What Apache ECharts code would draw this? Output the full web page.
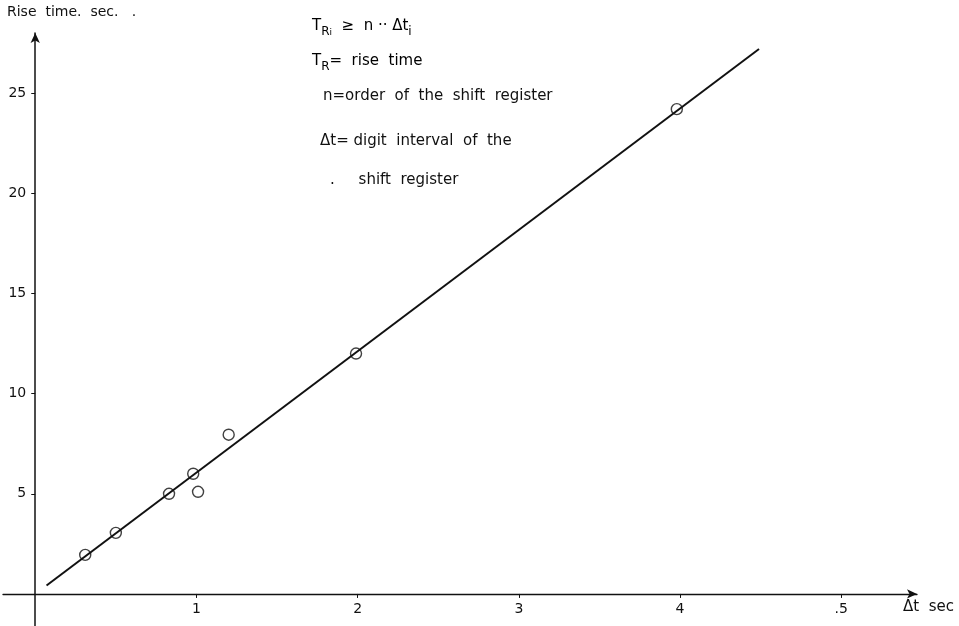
<!DOCTYPE html>
<html>
<head>
<meta charset="utf-8">
<title>Rise time vs digit interval</title>
<script src="https://cdn.jsdelivr.net/npm/echarts@6/dist/echarts.min.js"></script>
<style>
  html, body { margin: 0; padding: 0; background: #fff; }
  #chart { width: 959px; height: 626px; }
</style>
</head>
<body>
<div id="chart"></div>
<script>
// measured points: digit interval (s) vs rise time (s)
var deltaT   = [0.31, 0.5, 0.83, 0.98, 1.01, 1.2, 1.99, 3.98];
var riseTime = [1.95, 3.05, 5.0, 6.0, 5.1, 7.95, 12.0, 24.2];
// straight line drawn through the points
var fitX = [0.07, 4.49];
var fitY = [0.42, 27.2];
// axis ticks
var xTicks = [1, 2, 3, 4, 5];
var xTickLabels = ['1', '2', '3', '4', '.5'];
var yTicks = [5, 10, 15, 20, 25];

var font = 'DejaVu Sans';
var ink = '#111';

// axis lines run a little past the origin: x from -0.2, y from -1.6
var xMin = -0.2, xMax = 5.47, yMin = -1.6, yMax = 28;
var W = 959, H = 626;
var gLeft = 3, gRight = 42, gTop = 33, gBottom = 0;
// inner grid starts at the origin so ticks and labels sit on the zero lines
var pxPerX = (W - gLeft - gRight) / (xMax - xMin);
var pxPerY = (H - gTop - gBottom) / (yMax - yMin);
var innerLeft = gLeft + (0 - xMin) * pxPerX;
var innerBottom = gBottom + (0 - yMin) * pxPerY;

var chart = echarts.init(document.getElementById('chart'));

var points = deltaT.map(function (x, i) { return [x, riseTime[i]]; });
var fitLine = fitX.map(function (x, i) { return [x, fitY[i]]; });

var option = {
  backgroundColor: '#fff',
  animation: false,
  grid: [
    { left: innerLeft, right: gRight, top: gTop, bottom: innerBottom, outerBoundsMode: 'none' },
    { left: gLeft, right: gRight, top: gTop, bottom: gBottom, outerBoundsMode: 'none' }
  ],
  xAxis: [{
    gridIndex: 0,
    type: 'value',
    min: 0,
    max: xMax,
    axisLine: { show: false },
    axisTick: { customValues: xTicks, length: 4, lineStyle: { color: ink } },
    axisLabel: {
      customValues: xTicks,
      margin: 8,
      color: ink,
      fontFamily: font,
      fontSize: 14,
      formatter: function (v) { return xTickLabels[xTicks.indexOf(v)]; }
    },
    splitLine: { show: false }
  }, {
    gridIndex: 1,
    type: 'value',
    min: xMin,
    max: xMax,
    axisLine: {
      onZero: true,
      symbol: ['none', 'arrow'],
      symbolSize: [7, 10],
      lineStyle: { color: ink, width: 1.3 }
    },
    axisTick: { show: false },
    axisLabel: { show: false },
    splitLine: { show: false }
  }],
  yAxis: [{
    gridIndex: 0,
    type: 'value',
    min: 0,
    max: yMax,
    axisLine: { show: false },
    axisTick: { customValues: yTicks, length: 4, lineStyle: { color: ink } },
    axisLabel: {
      customValues: yTicks,
      margin: 9,
      color: ink,
      fontFamily: font,
      fontSize: 14
    },
    splitLine: { show: false }
  }, {
    gridIndex: 1,
    type: 'value',
    min: yMin,
    max: yMax,
    axisLine: {
      onZero: true,
      symbol: ['none', 'arrow'],
      symbolSize: [7, 10],
      lineStyle: { color: ink, width: 1.5 }
    },
    axisTick: { show: false },
    axisLabel: { show: false },
    splitLine: { show: false }
  }],
  series: [{
    name: 'fit',
    type: 'line',
    xAxisIndex: 0,
    yAxisIndex: 0,
    data: fitLine,
    showSymbol: false,
    lineStyle: { color: ink, width: 2 },
    z: 2
  }, {
    name: 'measured',
    type: 'scatter',
    xAxisIndex: 0,
    yAxisIndex: 0,
    data: points,
    symbol: 'circle',
    symbolSize: 11,
    itemStyle: { color: 'rgba(255,255,255,0)', borderColor: ink, borderWidth: 1.4 },
    z: 3
  }],
  graphic: [
    { type: 'text', left: 7, top: 5,
      style: { text: 'Rise  time.  sec.   .', font: '14px ' + font, fill: ink } },
    { type: 'text', left: 903, top: 600,
      style: { text: 'Δt  sec', font: '15px ' + font, fill: ink } },
    { type: 'text', left: 312, top: 19,
      style: {
        text: '{m|T}{s|R}{ss|i}{m|  ≥  n ·· Δt}{s|i}',
        rich: {
          m:  { fontFamily: font, fontSize: 15, lineHeight: 22, color: ink },
          s:  { fontFamily: font, fontSize: 12, lineHeight: 14, verticalAlign: 'bottom', color: ink },
          ss: { fontFamily: font, fontSize: 9, lineHeight: 8, verticalAlign: 'bottom', color: ink }
        }
      } },
    { type: 'text', left: 312, top: 54,
      style: {
        text: '{m|T}{s|R}{m|=  rise  time}',
        rich: {
          m: { fontFamily: font, fontSize: 15, lineHeight: 22, color: ink },
          s: { fontFamily: font, fontSize: 12, lineHeight: 14, verticalAlign: 'bottom', color: ink }
        }
      } },
    { type: 'text', left: 323, top: 89,
      style: { text: 'n=order  of  the  shift  register', font: '15px ' + font, fill: ink } },
    { type: 'text', left: 320, top: 134,
      style: { text: 'Δt= digit  interval  of  the', font: '15px ' + font, fill: ink } },
    { type: 'text', left: 330, top: 173,
      style: { text: '.     shift  register', font: '15px ' + font, fill: ink } }
  ]
};

chart.setOption(option);
</script>
</body>
</html>
